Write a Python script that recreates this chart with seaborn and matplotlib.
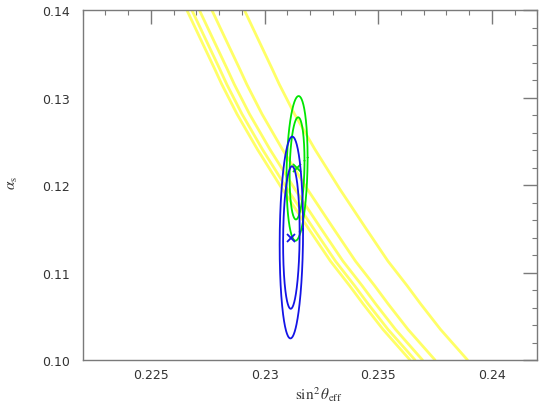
import numpy as np
import pandas as pd
import seaborn as sns
import matplotlib.pyplot as plt
from matplotlib.ticker import MultipleLocator

# yellow constraint curves: common alpha_s grid, sin2theta for each curve
alpha_grid = [0.1400, 0.1367, 0.1333, 0.1315, 0.1281, 0.1241, 0.1195,
              0.1150, 0.1113, 0.1085, 0.1064, 0.1035, 0.1000]
curve_1 = [0.22658, 0.22718, 0.22780, 0.22812, 0.22879, 0.22968, 0.23079,
           0.23194, 0.23290, 0.23374, 0.23434, 0.23521, 0.23640]
curve_2 = [0.22680, 0.22740, 0.22802, 0.22834, 0.22901, 0.22990, 0.23101,
           0.23216, 0.23312, 0.23396, 0.23456, 0.23543, 0.23662]
curve_3 = [0.22713, 0.22773, 0.22835, 0.22867, 0.22934, 0.23023, 0.23134,
           0.23249, 0.23345, 0.23429, 0.23489, 0.23576, 0.23695]
curve_4 = [0.22768, 0.22828, 0.22890, 0.22922, 0.22989, 0.23078, 0.23189,
           0.23304, 0.23400, 0.23484, 0.23544, 0.23631, 0.23750]
curve_5 = [0.22911, 0.22971, 0.23033, 0.23065, 0.23132, 0.23221, 0.23332,
           0.23447, 0.23543, 0.23627, 0.23687, 0.23774, 0.23893]

# fit results: centre, sigmas, correlation (green and blue)
fit_names = ["green", "blue"]
fit_x = [0.23143, 0.23118]
fit_y = [0.1219, 0.1140]
fit_sx = [0.000216, 0.000240]
fit_sy = [0.00385, 0.00537]
fit_rho = [0.15, 0.08]
fit_colors = ["#00e600", "#1414e6"]
dchi2_levels = [2.30, 4.61]

sns.set_theme(style="white")
plt.rcParams["font.family"] = ["DejaVu Sans"]
plt.rcParams["mathtext.fontset"] = "stix"

fig = plt.figure(figsize=(5.5, 4.06), dpi=100)
ax = fig.add_axes([0.1504, 0.1108, 0.8265, 0.8621])

yellow = "#ffff66"
for c in [curve_1, curve_2, curve_3, curve_4, curve_5]:
    df = pd.DataFrame({"s2w": c, "alpha": alpha_grid})
    sns.lineplot(data=df, x="s2w", y="alpha", sort=False, estimator=None,
                 color=yellow, linewidth=2.0, ax=ax)

t = np.linspace(0, 2 * np.pi, 300)
for i, name in enumerate(fit_names):
    for lev in dchi2_levels:
        k = np.sqrt(lev)
        ex = fit_x[i] + k * fit_sx[i] * np.cos(t)
        ey = fit_y[i] + k * fit_sy[i] * (fit_rho[i] * np.cos(t) + np.sqrt(1 - fit_rho[i] ** 2) * np.sin(t))
        sns.lineplot(x=ex, y=ey, sort=False, estimator=None,
                     color=fit_colors[i], linewidth=1.3, ax=ax)
    ax.plot(fit_x[i], fit_y[i], marker="x", color=fit_colors[i], markersize=6, mew=1.3)

ax.set_xlim(0.222, 0.242)
ax.set_ylim(0.10, 0.14)
ax.xaxis.set_minor_locator(MultipleLocator(0.001))
ax.yaxis.set_minor_locator(MultipleLocator(0.002))
ax.set_xticks([0.225, 0.23, 0.235, 0.24])
ax.set_xticklabels(["0.225", "0.23", "0.235", "0.24"])
ax.set_yticks([0.10, 0.11, 0.12, 0.13, 0.14])
ax.set_yticklabels(["0.10", "0.11", "0.12", "0.13", "0.14"])

frame = "#7a7a7a"
for sp in ax.spines.values():
    sp.set_color(frame)
    sp.set_linewidth(1.0)
ax.tick_params(which="both", direction="in", top=True, right=True,
               color=frame, labelcolor="#333333", labelsize=9)
ax.tick_params(which="major", length=10, width=1.0)
ax.tick_params(which="minor", length=3.5, width=0.8)
ax.tick_params(axis="x", which="major", pad=6)
ax.tick_params(axis="y", which="major", pad=9)

ax.set_xlabel(r"$\sin^2\theta_{\rm eff}$", fontsize=11, color="#333333")
ax.set_ylabel(r"$\alpha_{\rm s}$", fontsize=11, color="#333333")
ax.xaxis.set_label_coords(0.52, -0.068)
ax.yaxis.set_label_coords(-0.138, 0.51)

fig.savefig("out.png", dpi=100)
